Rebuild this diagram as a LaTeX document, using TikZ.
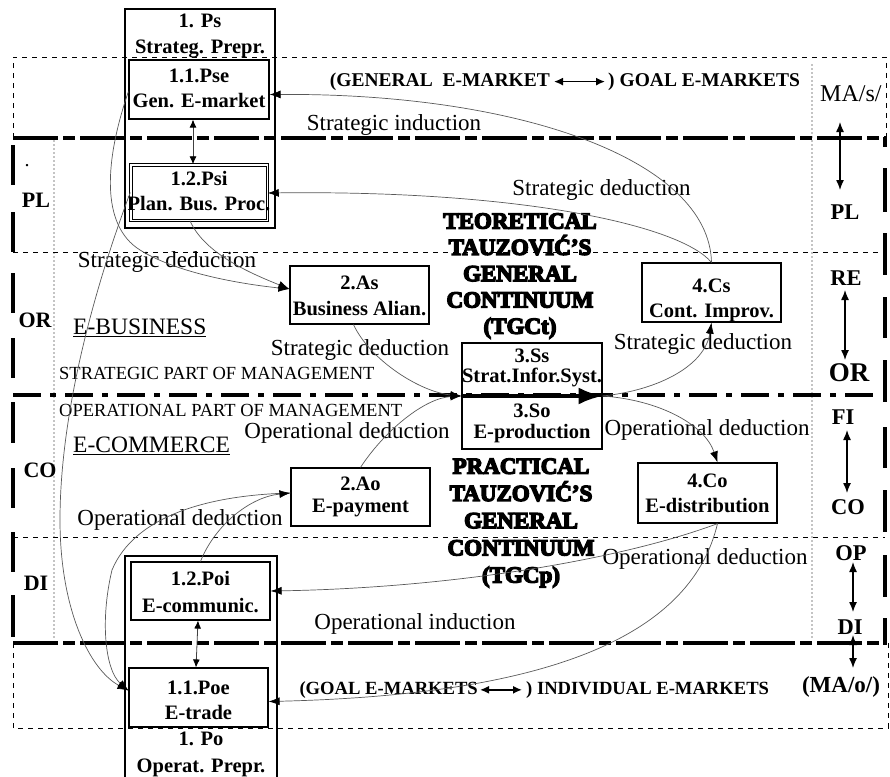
\documentclass[tikz,border=0pt]{standalone}
\usepackage{fontspec}
\setmainfont{Liberation Serif}
\newfontfamily\heavyfont[FakeBold=6]{Liberation Serif Bold}
\usetikzlibrary{arrows.meta}
\begin{document}
\begin{tikzpicture}[x=1pt,y=-1pt,
  conn/.style={draw=black!65, line width=0.7pt, -{Latex[length=11pt,width=8pt,color=black]}},
  box/.style={draw, line width=1.2pt, inner sep=0pt},
  boxtext/.style={font=\fontsize{20.5}{#1}\selectfont\bfseries, align=center, inner sep=0pt},
  boxtext/.default=25,
  txt/.style={font=\fontsize{23}{26}\selectfont, inner sep=0pt, anchor=mid},
  caps/.style={font=\fontsize{18.5}{20}\selectfont, inner sep=0pt, anchor=mid west},
  heading/.style={font=\fontsize{23.5}{26}\selectfont, inner sep=0pt, anchor=mid west},
  heavy/.style={font=\fontsize{23}{#1}\heavyfont, align=center, inner sep=0pt},
  mk/.style={font=\fontsize{#1}{22}\selectfont\bfseries, inner sep=0pt},
  rl/.style={font=\fontsize{#1}{24}\selectfont\bfseries, inner sep=0pt},
  dotln/.style={line width=1pt, dash pattern=on 5pt off 5pt},
  finedot/.style={line width=1.4pt, line cap=round, dash pattern=on 0pt off 4pt},
  heavyln/.style={line width=3.5pt, dash pattern=on 45pt off 5pt on 12pt off 5pt},
  dashdotln/.style={line width=4pt, dash pattern=on 28pt off 9pt on 6pt off 9pt},
  vseg/.style={line width=3.5pt},
  dblarrow/.style={line width=1.3pt, {Latex[length=10pt,width=8pt]}-{Latex[length=10pt,width=8pt]}},
  smalldbl/.style={line width=0.8pt, draw=black!75, {Latex[length=8pt,width=7pt,color=black]}-{Latex[length=8pt,width=7pt,color=black]}},
  mkarrow/.style={line width=1.5pt, {Latex[length=9pt,width=8pt]}-{Latex[length=9pt,width=8pt]}}
]
\path[use as bounding box] (0,0) rectangle (890,776);

% ---------- region frames ----------
\draw[dotln] (13,138) -- (13,57) -- (886,57) -- (886,138);
\draw[dotln] (13,643) -- (13,728) -- (888,728) -- (888,643);
\draw[dotln] (13,252) -- (885,252);
\draw[dotln] (13,537) -- (885,537);
\draw[finedot] (54,141) -- (54,637);
\draw[finedot] (812,65) -- (812,637);
\draw[heavyln] (13,138) -- (886,138);
\draw[heavyln] (13,643) -- (886,643);
\draw[dashdotln] (13,395) -- (880,395);
\foreach \a/\b in {145/185,212/252,273/313,338/378,402/443,468/508,532/572,595/637}
  \draw[vseg] (13,\a) -- (13,\b);
\foreach \a/\b in {136.5/147,168/212,233/275,297/338,360/402,427/468,490/532,555/597,618/644.5}
  \draw[vseg] (885,\a) -- (885,\b);

% ---------- boxes ----------
\node[box, minimum width=150, minimum height=219] (Ps) at (200,118.5) {};
\node[box, minimum width=140, minimum height=59] (Pse) at (199,89.5) {};
\node[box, line width=1pt, double, double distance=1.5pt, minimum width=136.5, minimum height=55.5] (Psi) at (199,192.5) {};
\node[box, minimum width=139, minimum height=58] (As) at (359.5,295) {};
\node[box, minimum width=140, minimum height=106] (S) at (532,396) {};
\node[box, minimum width=139, minimum height=59] (Cs) at (711.5,292.5) {};
\node[box, minimum width=139, minimum height=58] (Ao) at (360.5,497) {};
\node[box, minimum width=139, minimum height=60] (Co) at (707.5,493) {};
\node[box, minimum width=139, minimum height=58] (Poi) at (200.5,591) {};
\node[box, minimum width=139, minimum height=59] (Poe) at (198.5,697.5) {};
\draw[box] (125,780) -- (125,556) -- (277,556) -- (277,780);

% ---------- box texts ----------
\node[boxtext=26] (PsT) at (200,36) {1. Ps\\Strateg. Prepr.};
\node[boxtext] (PseT) at (199,88) {1.1.Pse\\Gen. E-market};
\node[boxtext] (PsiT) at (199,191) {1.2.Psi\\Plan. Bus. Proc.};
\node[boxtext=26] (AsT) at (359.5,295.5) {2.As\\Business Alian.};
\node[boxtext=20] (SsT) at (532,367.5) {3.Ss\\Strat.Infor.Syst.};
\node[boxtext=21] (SoT) at (532,423) {3.So\\E-production};
\node[boxtext] (CsT) at (711.5,300) {4.Cs\\Cont. Improv.};
\node[boxtext=22] (AoT) at (360.5,496.5) {2.Ao\\E-payment};
\node[boxtext] (CoT) at (707.5,493) {4.Co\\E-distribution};
\node[boxtext=27] (PoiT) at (200.5,592) {1.2.Poi\\E-communic.};
\node[boxtext] (PoeT) at (198.5,700) {1.1.Poe\\E-trade};
\node[boxtext=27] (PoT) at (201,754) {1. Po\\Operat. Prepr.};

% ---------- central heavy texts ----------
\node[heavy=26.3] (TGCt) at (520,276) {TEORETICAL\\TAUZOVIĆ’S\\GENERAL\\CONTINUUM\\(TGCt)};
\node[heavy=27.2] (TGCp) at (521,523) {PRACTICAL\\TAUZOVIĆ’S\\GENERAL\\CONTINUUM\\(TGCp)};

% ---------- headings ----------
\node[heading] (eb) at (73,332) {\underline{E-BUSINESS}};
\node[heading] (ec) at (73,450) {\underline{E-COMMERCE}};
\node[caps] (spm) at (59,377) {STRATEGIC PART OF MANAGEMENT};
\node[caps] (opm) at (59,414) {OPERATIONAL PART OF MANAGEMENT};

% ---------- market labels ----------
\node[mk=19.5, anchor=mid east] (gm1) at (550,84) {(GENERAL\ \ E-MARKET};
\node[mk=19.5, anchor=mid west] (gm2) at (608,84) {) GOAL E-MARKETS};
\draw[mkarrow, shorten <=4pt, shorten >=3pt] (gm1.east) -- (gm2.west);
\node[mk=18.6, anchor=mid east] (gm3) at (478,692) {(GOAL E-MARKETS};
\node[mk=18.6, anchor=mid west] (gm4) at (526,692) {) INDIVIDUAL E-MARKETS};
\draw[mkarrow, shorten <=2pt, shorten >=4pt] (gm3.east) -- (gm4.west);

% ---------- connector labels ----------
\node[txt] (si) at (394,128) {Strategic induction};
\node[txt] (sd1) at (601.5,193) {Strategic deduction};
\node[txt] (sd2) at (167,265) {Strategic deduction};
\node[txt] (sd3) at (360,353) {Strategic deduction};
\node[txt] (sd4) at (703,347) {Strategic deduction};
\node[txt] (od1) at (347,436) {Operational deduction};
\node[txt] (od2) at (707,433) {Operational deduction};
\node[txt] (od3) at (705,562) {Operational deduction};
\node[txt] (od4) at (180,523) {Operational deduction};
\node[txt] (oi) at (415,627) {Operational induction};

% ---------- left region labels ----------
\node[rl=22] (lPL) at (36,200) {PL};
\node[rl=22] (lOR) at (35,320) {OR};
\node[rl=22] (lCO) at (40,470) {CO};
\node[rl=22] (lDI) at (36,583) {DI};
\node[font=\fontsize{20}{22}\selectfont, inner sep=0pt] (ldot) at (27,166) {.};

% ---------- right region labels ----------
\node[font=\fontsize{24}{26}\selectfont, inner sep=0pt, anchor=mid west] (rMAs) at (820,99) {MA/s/};
\node[rl=22.5] (rPL) at (845,212) {PL};
\node[rl=22.5] (rRE) at (846,278) {RE};
\node[rl=27] (rOR) at (849,373) {OR};
\node[rl=22.5] (rFI) at (843,417) {FI};
\node[rl=22.5] (rCO) at (848,507) {CO};
\node[rl=22.5] (rOP) at (851,553) {OP};
\node[rl=22.5] (rDI) at (850,627) {DI};
\node[rl=23] (rMAo) at (841,687) {(MA/o/)};

\coordinate (a1) at (840,122); \coordinate (a2) at (840,190);
\coordinate (b1) at (845,290); \coordinate (b2) at (845,360);
\coordinate (c1) at (847,430); \coordinate (c2) at (847,493);
\coordinate (d1) at (853,562); \coordinate (d2) at (853,612);
\coordinate (e1) at (853,635); \coordinate (e2) at (853,668);
\draw[dblarrow] (a1) -- (a2);
\draw[dblarrow] (b1) -- (b2);
\draw[dblarrow] (c1) -- (c2);
\draw[dblarrow] (d1) -- (d2);
\draw[dblarrow] (e1) -- (e2);

% ---------- small double arrows in the preparation columns ----------
\draw[smalldbl] ([xshift=-6pt]Pse.south) -- ([xshift=-6pt]Psi.north);
\draw[smalldbl] ([xshift=-2.5pt]Poi.south) -- ([xshift=-2.5pt]Poe.north);

% ---------- heavy arrow through 3.S ----------
\draw[line width=4pt, -{Latex[length=24pt,width=17pt]}] (S.west) -- (S.east);

% ---------- connectors ----------
\draw[conn] (Cs.north) .. controls (709,160) and (520,93) .. ([yshift=-5pt]Pse.east);
\draw[conn] (Cs.north) .. controls (680,225) and (520,190) .. ([yshift=-0.5pt]Psi.east);
\draw[conn] ([yshift=-2pt]Pse.west) .. controls (105,160) and (100,225) .. (140,250)
   .. controls (180,275) and (250,285) .. ([yshift=6pt]As.west);
\draw[conn] ([xshift=-9pt]Psi.south) .. controls (205,255) and (255,275) .. ([yshift=6pt]As.west);
\draw[conn] (Psi.west) .. controls (90,300) and (60,420) .. (60,520)
   .. controls (60,610) and (90,670) .. ([yshift=7pt]Poe.west);
\draw[conn] ([yshift=4pt]Ao.west) .. controls (210,495) and (135,515) .. (112,570)
   .. controls (100,620) and (105,670) .. ([yshift=7pt]Poe.west);
\draw[conn] (Poi.north) .. controls (215,525) and (250,497) .. ([yshift=4pt]Ao.west);
\draw[conn] ([xshift=-6pt]As.south) .. controls (370,360) and (420,392) .. (S.west);
\draw[conn] (Ao.north) .. controls (385,430) and (425,398) .. (S.west);
\draw[conn] (S.east) .. controls (660,390) and (705,365) .. (Cs.south);
\draw[conn] (S.east) .. controls (660,400) and (705,425) .. ([xshift=10pt]Co.north);
\draw[conn] ([xshift=10pt]Co.south) .. controls (620,560) and (450,588) .. (Poi.east);
\draw[conn] ([xshift=10pt]Co.south) .. controls (690,640) and (540,695) .. ([yshift=-4pt]Poe.east);
\end{tikzpicture}
\end{document}
